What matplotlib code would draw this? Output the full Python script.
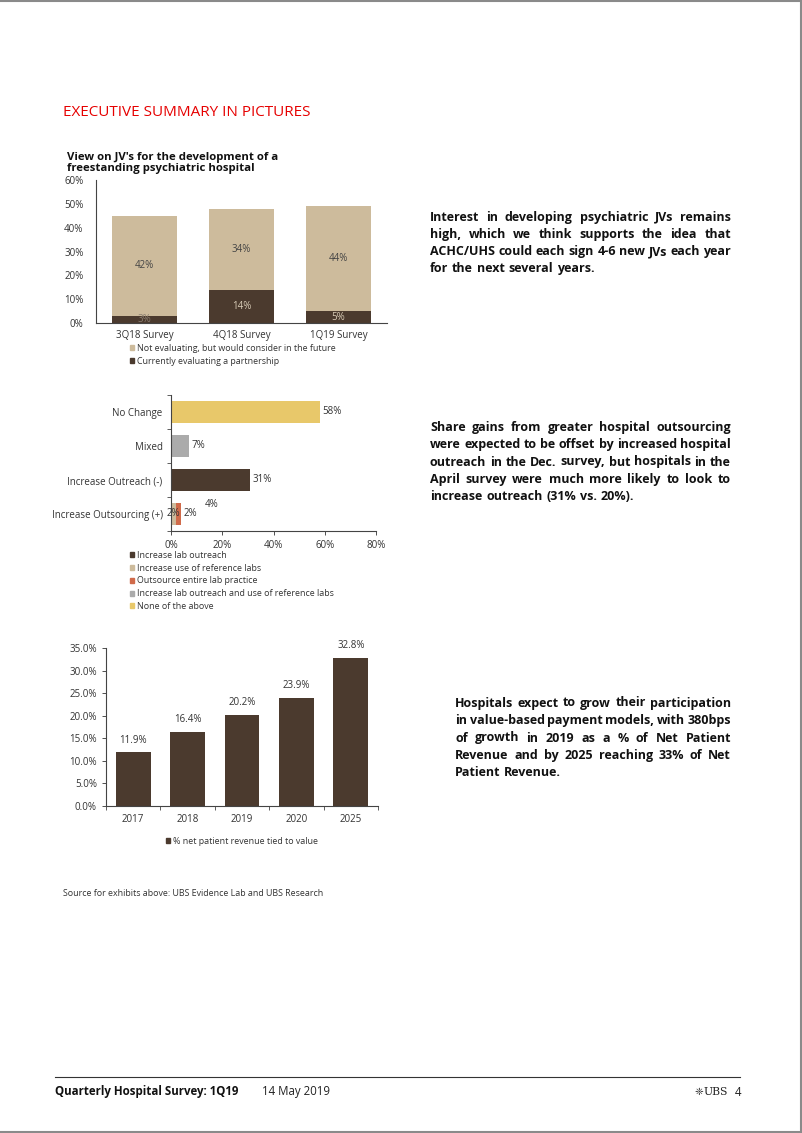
import matplotlib
matplotlib.use("Agg")
import matplotlib.pyplot as plt
from matplotlib.patches import Patch
from matplotlib.lines import Line2D

plt.rcParams['font.family'] = ['Open Sans', 'DejaVu Sans']

W, H = 802, 1133

# ---- data ----
jv_surveys = ["3Q18 Survey", "4Q18 Survey", "1Q19 Survey"]
jv_current = [3, 14, 5]
jv_consider = [42, 34, 44]
jv_legend = ["Not evaluating, but would consider in the future",
             "Currently evaluating a partnership"]

lab_cats = ["Increase Outsourcing (+)", "Increase Outreach (-)", "Mixed", "No Change"]
lab_outreach = [0, 31, 0, 0]
lab_reference = [2, 0, 0, 0]
lab_outsource = [2, 0, 0, 0]
lab_both = [0, 0, 7, 0]
lab_none = [0, 0, 0, 58]
lab_outsourcing_total = 4
lab_legend = ["Increase lab outreach", "Increase use of reference labs",
              "Outsource entire lab practice",
              "Increase lab outreach and use of reference labs", "None of the above"]

vb_years = ["2017", "2018", "2019", "2020", "2025"]
vb_values = [11.9, 16.4, 20.2, 23.9, 32.8]
vb_legend = "% net patient revenue tied to value"

text1 = ["Interest in developing psychiatric JVs remains",
         "high, which we think supports the idea that",
         "ACHC/UHS could each sign 4-6 new JVs each year",
         "for the next several years."]
text2 = ["Share gains from greater hospital outsourcing",
         "were expected to be offset by increased hospital",
         "outreach in the Dec. survey, but hospitals in the",
         "April survey were much more likely to look to",
         "increase outreach (31% vs. 20%)."]
text3 = ["Hospitals expect to grow their participation",
         "in value-based payment models, with 380bps",
         "of growth in 2019 as a % of Net Patient",
         "Revenue and by 2025 reaching 33% of Net",
         "Patient Revenue."]

DARK = "#4b3a2e"
TAN = "#cdbb9c"
ORANGE = "#d06a4a"
GREY = "#ababab"
YELLOW = "#e8c86a"
TXT = "#333333"
AX = "#444444"
FS = 7.0
LFS = 6.4

fig = plt.figure(figsize=(W / 100, H / 100), dpi=100)


def axes_px(x0, y0, x1, y1):
    return fig.add_axes([x0 / W, 1 - y1 / H, (x1 - x0) / W, (y1 - y0) / H])


def ftext(x, y, s, **kw):
    return fig.text(x / W, 1 - y / H, s, **kw)


def style(ax):
    for s in ["top", "right"]:
        ax.spines[s].set_visible(False)
    for s in ["left", "bottom"]:
        ax.spines[s].set_color(AX)
        ax.spines[s].set_linewidth(0.8)
    ax.tick_params(labelsize=FS, colors=TXT, length=3, width=0.6)


def legend(handles, labels, x, y, loc="upper left", spacing=0.42):
    fig.legend(handles, labels, loc=loc, bbox_to_anchor=(x / W, 1 - y / H), frameon=False,
               fontsize=LFS, handlelength=0.5, handleheight=0.5, handletextpad=0.3,
               labelspacing=spacing, borderaxespad=0, borderpad=0, labelcolor=TXT)


# page frame
fig.add_artist(Line2D([0, 1], [0.9995, 0.9995], color="#8a8a8a", lw=1.5))
fig.add_artist(Line2D([800.5 / W, 800.5 / W], [0, 1], color="#8a8a8a", lw=1.5))
fig.add_artist(Line2D([0, 1], [1.5 / H, 1.5 / H], color="#8a8a8a", lw=1.5))

ftext(63, 112, "EXECUTIVE SUMMARY IN PICTURES", color="#e60000", fontsize=11, va="center")

# ---- chart 1 ----
ftext(67, 163, "View on JV's for the development of a\nfreestanding psychiatric hospital",
      fontsize=8.2, fontweight="bold", va="center", color="#111111", linespacing=1.0)
ax1 = axes_px(96, 180, 387, 323)
style(ax1)
x1 = range(len(jv_surveys))
ax1.bar(x1, jv_current, width=0.67, color=DARK)
ax1.bar(x1, jv_consider, width=0.67, bottom=jv_current, color=TAN)
for i in x1:
    ax1.text(i, jv_current[i] + jv_consider[i] / 2, f"{jv_consider[i]}%", ha="center",
             va="center", fontsize=FS, color="#444444")
    ax1.text(i, jv_current[i] / 2, f"{jv_current[i]}%", ha="center", va="center",
             fontsize=FS, color="#d8cbb6" if jv_current[i] > 3 else "#8a7d70")
ax1.set_xlim(-0.5, 2.5)
ax1.set_ylim(0, 60)
ax1.set_yticks(range(0, 61, 10))
ax1.set_yticklabels([f"{v}%" for v in range(0, 61, 10)])
ax1.set_xticks(list(x1))
ax1.set_xticklabels(jv_surveys)
ax1.tick_params(axis="both", length=0)
ax1.tick_params(axis="y", pad=9)
ax1.tick_params(axis="x", pad=5)
legend([Patch(color=TAN), Patch(color=DARK)], jv_legend, 130, 344)

# ---- chart 2 ----
ax2 = axes_px(171, 395, 376, 531)
style(ax2)
y2 = range(len(lab_cats))
left = [0] * len(lab_cats)
for vals, col in [(lab_outreach, DARK), (lab_reference, TAN), (lab_outsource, ORANGE),
                  (lab_both, GREY), (lab_none, YELLOW)]:
    ax2.barh(y2, [v / 100 for v in vals], left=left, height=0.65, color=col)
    left = [l + v / 100 for l, v in zip(left, vals)]
for i in [1, 2, 3]:
    ax2.text(left[i] + 0.01, i, f"{int(round(left[i] * 100))}%", va="center",
             fontsize=FS, color=TXT)
ax2.text(lab_reference[0] / 200 - 0.002, 0, f"{lab_reference[0]}%", va="center", ha="center",
         fontsize=FS, color=TXT)
ax2.text(left[0] + 0.01, 0, f"{lab_outsource[0]}%", va="center", fontsize=FS, color=TXT)
ax2.text(0.13, 0.28, f"{lab_outsourcing_total}%", va="center", fontsize=FS, color=TXT)
ax2.set_xlim(0, 0.8)
ax2.set_ylim(-0.5, 3.5)
ax2.set_xticks([0, 0.2, 0.4, 0.6, 0.8])
ax2.set_xticklabels(["0%", "20%", "40%", "60%", "80%"])
ax2.set_yticks(list(y2))
ax2.set_yticklabels(lab_cats)
ax2.set_yticks([-0.5, 0.5, 1.5, 2.5, 3.5], minor=True)
ax2.tick_params(axis="y", which="major", length=0, pad=6)
ax2.tick_params(axis="y", which="minor", length=3, width=0.6, colors=AX)
ax2.tick_params(axis="x", length=3)
legend([Patch(color=c) for c in [DARK, TAN, ORANGE, GREY, YELLOW]], lab_legend, 130, 551)

# ---- chart 3 ----
ax3 = axes_px(106, 648, 378, 806)
style(ax3)
x3 = range(len(vb_years))
ax3.bar(x3, vb_values, width=0.64, color=DARK)
for i in x3:
    ax3.annotate(f"{vb_values[i]:.1f}%", (i, vb_values[i]), xytext=(0, 7),
                 textcoords="offset points", ha="center", fontsize=FS, color=TXT)
ax3.set_xlim(-0.5, 4.5)
ax3.set_ylim(0, 35)
ax3.set_yticks(range(0, 36, 5))
ax3.set_yticklabels([f"{v:.1f}%" for v in range(0, 36, 5)])
ax3.set_xticks([i - 0.5 for i in range(6)], minor=True)
ax3.set_xticks(list(x3))
ax3.set_xticklabels(vb_years)
ax3.tick_params(axis="x", which="major", length=0, pad=6)
ax3.tick_params(axis="x", which="minor", length=3, width=0.6, colors=AX)
legend([Patch(color=DARK)], [vb_legend], 242, 841, loc="center")

ftext(63, 894, "Source for exhibits above: UBS Evidence Lab and UBS Research",
      fontsize=LFS, va="center", color=TXT)

# ---- justified side text ----
renderer = fig.canvas.get_renderer()


def justified(lines, x0, x1, y0, dy):
    for k, line in enumerate(lines):
        y = y0 + k * dy
        words = line.split()
        arts = [ftext(x0, y, w, fontsize=9.0, fontweight="bold", va="center",
                      color="#111111") for w in words]
        widths = [a.get_window_extent(renderer).width for a in arts]
        if k == len(lines) - 1:
            gap = 3.8
        else:
            gap = (x1 - x0 - sum(widths)) / (len(words) - 1)
        x = x0
        for a, wd in zip(arts, widths):
            a.set_x(x / W)
            x += wd + gap


justified(text1, 430, 731, 217, 17.3)
justified(text2, 430, 731, 427, 17.5)
justified(text3, 455, 731, 703, 17.5)

# ---- footer ----
fig.add_artist(Line2D([55 / W, 740 / W], [1 - 1077 / H, 1 - 1077 / H], color="#333333", lw=0.8))
ftext(55, 1092, "Quarterly Hospital Survey: 1Q19", fontsize=8.3, fontweight="bold",
      va="center", color="#111111")
ftext(262, 1092, "14 May 2019", fontsize=8.3, va="center", color="#222222")
ftext(703, 1092, "\u2748", fontsize=7.5, va="center", ha="right", color="#333333",
      family="DejaVu Sans")
ftext(704, 1092, "UBS", fontsize=7.8, va="center", ha="left", color="#222222",
      family="DejaVu Serif")
ftext(741, 1092, "4", fontsize=8.3, va="center", ha="right", color="#222222")

fig.savefig("out.png", dpi=100)
